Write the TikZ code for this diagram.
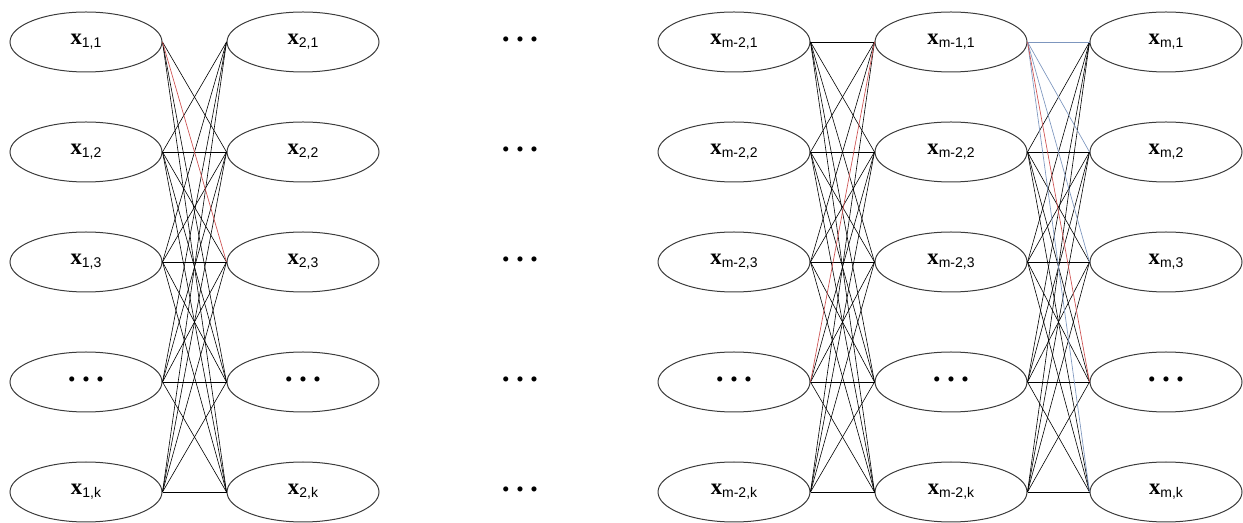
\documentclass[tikz,border=0pt]{standalone}
\usepackage{fontspec}
\setmainfont{Liberation Serif}
\newfontfamily\subfont{Liberation Sans}
\usetikzlibrary{shapes.geometric}

\definecolor{rimgray}{RGB}{60,60,60}
\definecolor{linkred}{RGB}{205,80,80}
\definecolor{linkblue}{RGB}{125,150,190}

\newcommand{\xlab}[1]{{\fontsize{17}{17}\selectfont\bfseries x}\raisebox{-0.55ex}{\subfont\fontsize{10.5}{10.5}\selectfont #1}}
\newcommand{\dotrow}{{\fontsize{16}{16}\selectfont\textbullet\hspace{5pt}\textbullet\hspace{5pt}\textbullet}}

\begin{document}
\begin{tikzpicture}[x=0.75pt,y=-0.75pt,
  cell/.style={ellipse,draw=rimgray,line width=0.75pt,minimum width=114pt,minimum height=45pt,inner sep=0pt},
  edge/.style={black,line width=0.45pt},
  rededge/.style={linkred,line width=0.5pt},
  blueedge/.style={linkblue,line width=0.5pt}]

\useasboundingbox (0,0) rectangle (1243,523);

% column 1
\node[cell] (c1r1) at (86,42)  {\xlab{1,1}};
\node[cell] (c1r2) at (86,152) {\xlab{1,2}};
\node[cell] (c1r3) at (86,262) {\xlab{1,3}};
\node[cell] (c1r4) at (86,382) {\dotrow};
\node[cell] (c1r5) at (86,492) {\xlab{1,k}};

% column 2
\node[cell] (c2r1) at (303,42)  {\xlab{2,1}};
\node[cell] (c2r2) at (303,152) {\xlab{2,2}};
\node[cell] (c2r3) at (303,262) {\xlab{2,3}};
\node[cell] (c2r4) at (303,382) {\dotrow};
\node[cell] (c2r5) at (303,492) {\xlab{2,k}};

% gap
\node (g1) at (520,42)  {\dotrow};
\node (g2) at (520,152) {\dotrow};
\node (g3) at (520,262) {\dotrow};
\node (g4) at (520,382) {\dotrow};
\node (g5) at (520,492) {\dotrow};

% column m-2
\node[cell] (c3r1) at (734,42)  {\xlab{m-2,1}};
\node[cell] (c3r2) at (734,152) {\xlab{m-2,2}};
\node[cell] (c3r3) at (734,262) {\xlab{m-2,3}};
\node[cell] (c3r4) at (734,382) {\dotrow};
\node[cell] (c3r5) at (734,492) {\xlab{m-2,k}};

% column m-1
\node[cell] (c4r1) at (951,42)  {\xlab{m-1,1}};
\node[cell] (c4r2) at (951,152) {\xlab{m-2,2}};
\node[cell] (c4r3) at (951,262) {\xlab{m-2,3}};
\node[cell] (c4r4) at (951,382) {\dotrow};
\node[cell] (c4r5) at (951,492) {\xlab{m-2,k}};

% column m
\node[cell] (c5r1) at (1166,42)  {\xlab{m,1}};
\node[cell] (c5r2) at (1166,152) {\xlab{m,2}};
\node[cell] (c5r3) at (1166,262) {\xlab{m,3}};
\node[cell] (c5r4) at (1166,382) {\dotrow};
\node[cell] (c5r5) at (1166,492) {\xlab{m,k}};

% links
\foreach \i in {1,...,5}
  \foreach \j in {1,...,5} {
    \ifnum\i\j=11 \else\ifnum\i\j=13 \else
      \draw[edge] (c1r\i.east) -- (c2r\j.west);
    \fi\fi
    \ifnum\i\j=41 \else
      \draw[edge] (c3r\i.east) -- (c4r\j.west);
    \fi
    \ifnum\i=1 \else
      \draw[edge] (c4r\i.east) -- (c5r\j.west);
    \fi
  }

\draw[rededge] (c1r1.east) -- (c2r3.west);
\draw[rededge] (c3r4.east) -- (c4r1.west);
\foreach \j in {1,2,3,5}
  \draw[blueedge] (c4r1.east) -- (c5r\j.west);
\draw[rededge] (c4r1.east) -- (c5r4.west);

\end{tikzpicture}
\end{document}
